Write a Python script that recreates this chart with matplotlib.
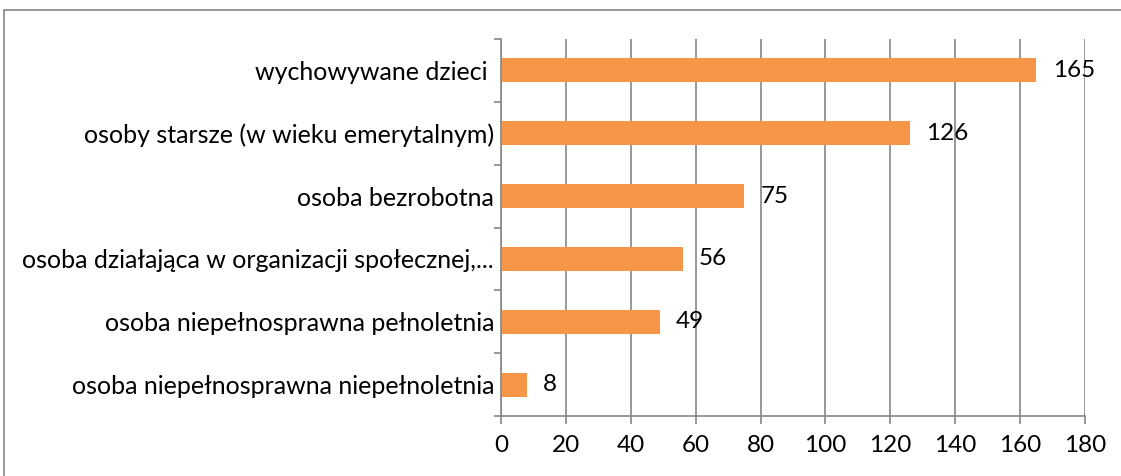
import matplotlib.pyplot as plt
from matplotlib.patches import Rectangle

# kategorie od dołu do góry
kategorie = ['osoba niepełnosprawna niepełnoletnia',
             'osoba niepełnosprawna pełnoletnia',
             'osoba działająca w organizacji społecznej,...',
             'osoba bezrobotna',
             'osoby starsze (w wieku emerytalnym)',
             'wychowywane dzieci ']
wartosci = [8, 49, 56, 75, 126, 165]
xticks = [0, 20, 40, 60, 80, 100, 120, 140, 160, 180]

plt.rcParams['font.family'] = ['Lato', 'DejaVu Sans']
szary = '#868686'

fig = plt.figure(figsize=(11.21, 4.76), dpi=100)
ax = fig.add_axes([501 / 1121, 1 - 416 / 476, (1085 - 501) / 1121, (416 - 39) / 476])

y = range(len(kategorie))
bars = ax.barh(y, wartosci, height=0.38, color='#F79646')
for rect, v in zip(bars, wartosci):
    ax.text(rect.get_width() + 5, rect.get_y() + rect.get_height() / 2, str(v),
            ha='left', va='center', fontsize=17.5, color='black')

ax.set_xlim(0, 180)
ax.set_ylim(-0.5, len(kategorie) - 0.5)
ax.set_xticks(xticks)
ax.set_xticklabels([str(t) for t in xticks])
ax.xaxis.grid(True, color=szary, lw=1.2)
ax.set_axisbelow(True)

ax.set_yticks(list(y))
ax.set_yticklabels(kategorie)
ax.set_yticks([i - 0.5 for i in range(len(kategorie) + 1)], minor=True)
ax.tick_params(axis='y', which='major', length=0, pad=5, labelsize=18)
ax.tick_params(axis='y', which='minor', length=5, width=1.2, color=szary)
ax.tick_params(axis='x', length=6, width=1.2, color=szary, pad=8, labelsize=17.5)

ax.spines['top'].set_visible(False)
ax.spines['right'].set_visible(False)
ax.spines['left'].set_color(szary)
ax.spines['bottom'].set_color(szary)
ax.spines['left'].set_linewidth(1.2)
ax.spines['bottom'].set_linewidth(1.2)

# ramka wykresu
fig.patches.append(Rectangle((4 / 1121, -0.1), 1.2, 1 - 10 / 476 + 0.1,
                             transform=fig.transFigure, fill=False,
                             edgecolor=szary, lw=1.2))

fig.savefig('out.png', dpi=100)
